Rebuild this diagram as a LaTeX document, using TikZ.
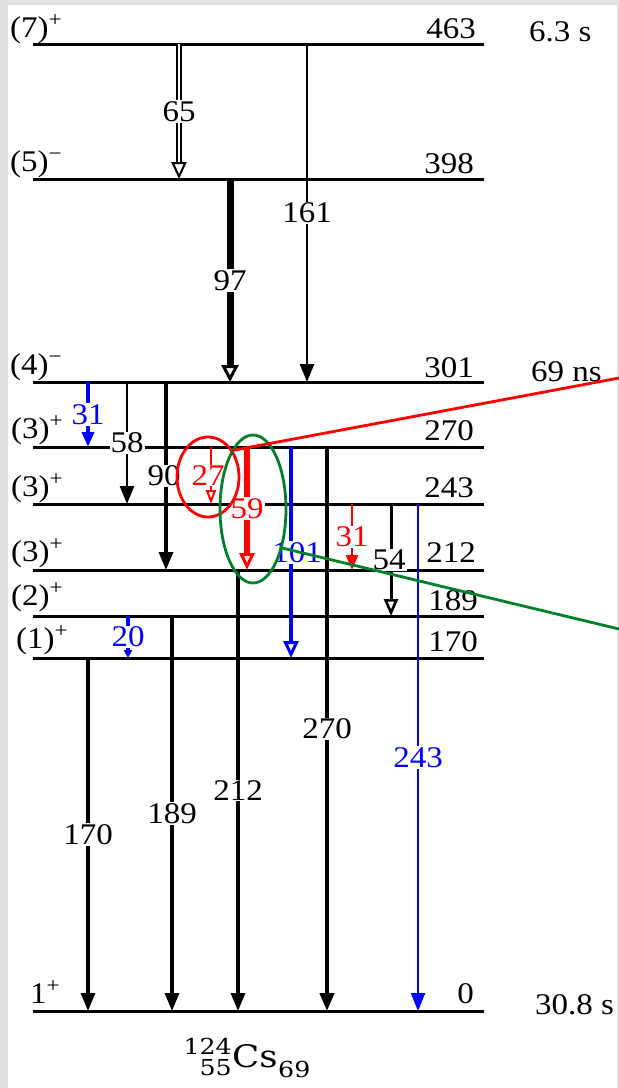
\documentclass[tikz,border=0pt]{standalone}
\usepackage{fontspec}
\setmainfont{Liberation Serif}[FakeStretch=1.1]
\newfontfamily\nucfont{DejaVu Serif}[FakeStretch=1.15]
\usetikzlibrary{arrows.meta,shapes.geometric}

\definecolor{framegrey}{RGB}{224,224,226}
\definecolor{ringgreen}{RGB}{0,128,40}

\newcommand{\lblsize}{\fontsize{30}{32}\selectfont}
\newcommand{\parity}[1]{\raisebox{11pt}{\fontsize{21}{21}\selectfont #1}}

\tikzset{
  level/.style={line width=3pt},
  gam/.style={line width=3.1pt},
  fa/.style={-{Triangle[width=14pt,length=18pt]}},
  oa/.style={-{Triangle[open,width=15pt,length=17pt,line width=3pt]}},
  sa/.style={-{Triangle[width=12pt,length=15pt]}},
  glab/.style={fill=white, inner sep=1pt, font=\lblsize},
  spin/.style={anchor=base west, inner sep=0pt, font=\lblsize},
  en/.style={anchor=base east, inner sep=0pt, font=\lblsize},
  life/.style={anchor=base west, inner sep=0pt, font=\lblsize},
  ring/.style={ellipse, draw, line width=2.8pt, inner sep=0pt},
  nuc/.style={inner sep=0pt, font=\nucfont\fontsize{31}{32}\selectfont},
  nucs/.style={inner sep=0pt, font=\nucfont\fontsize{22}{22}\selectfont}
}

\begin{document}
\begin{tikzpicture}[x=1pt,y=-1pt]
\useasboundingbox (0,0) rectangle (619,1088);
\fill[framegrey] (0,0) rectangle (619,1088);
\fill[white] (8,5) rectangle (617,1088);

% levels
\foreach \e/\y in {463/44,398/179,301/382,270/447,243/504,212/570,189/616,170/658,0/1011}{
  \coordinate (L\e) at (33,\y);
  \draw[level] (L\e) -- ++(451,0);
}

% columns of the transitions
\foreach \n/\x in {c65/179,c161/307,c97/230,c31b/88,c58/127,c90/166,c27/211,c59/247,c101/291,
                   c270/327,c31r/352,c54/391,c243/418,c20/128,c212/238,c189/172,c170/88}{
  \coordinate (\n) at (\x,0);
}

% spins
\node[spin] (s463) at (10,37) {(7)\parity{+}};
\node[spin] (s398) at (10,171) {(5)\parity{−}};
\node[spin] (s301) at (10,374) {(4)\parity{−}};
\node[spin] (s270) at (11,438) {(3)\parity{+}};
\node[spin] (s243) at (11,496) {(3)\parity{+}};
\node[spin] (s212) at (11,561) {(3)\parity{+}};
\node[spin] (s189) at (11,605) {(2)\parity{+}};
\node[spin] (s170) at (16,648) {(1)\parity{+}};
\node[spin] (s0) at (30,1003) {1\parity{+}};

% energies
\node[en] (e463) at (476,38) {463};
\node[en] (e398) at (474,173) {398};
\node[en] (e301) at (474,377) {301};
\node[en] (e270) at (474,440) {270};
\node[en] (e243) at (474,497) {243};
\node[en] (e212) at (476,562) {212};
\node[en] (e189) at (478,610) {189};
\node[en] (e170) at (478,651) {170};
\node[en] (e0) at (474,1003) {0};

% half-lives
\node[life] (t463) at (529,41) {6.3 s};
\node[life] (t301) at (531,381) {69 ns};
\node[life] (t0) at (535,1014) {30.8 s};

% transitions
\draw[line width=1.8pt, double, double distance=2.6pt, -{Triangle[open,width=15pt,length=17pt,line width=2pt]}]
  (c65 |- L463) -- (c65 |- L398) node[glab, midway] (g65) {65};
\draw[gam, line width=2.5pt, fa] (c161 |- L463) -- (c161 |- L301) node[glab, midway] (g161) {161};
\draw[gam, line width=7pt, -{Triangle[open,width=17pt,length=17pt,line width=3pt]}]
  (c97 |- L398) -- (c97 |- L301) node[glab, midway] (g97) {97};
\draw[gam, blue, line width=3.4pt, sa] (c31b |- L301) -- (c31b |- L270) node[glab, midway] (g31b) {31};
\draw[gam, line width=2.5pt, fa] (c58 |- L301) -- (c58 |- L243) node[glab, midway] (g58) {58};
\draw[gam, line width=3.2pt, fa] (c90 |- L301) -- (c90 |- L212) node[glab, midway, xshift=-2pt] (g90) {90};
\draw[gam, red, line width=2.6pt, -{Triangle[open,width=10pt,length=14pt,line width=2pt]}]
  (c27 |- L270) -- (c27 |- L243) node[glab, midway, xshift=-3pt] (g27) {27};
\draw[gam, red, line width=6pt, oa] (c59 |- L270) -- (c59 |- L212) node[glab, midway] (g59) {59};
\draw[gam, blue, line width=4.5pt, oa] (c101 |- L270) -- (c101 |- L170) node[glab, midway, xshift=6pt] (g101) {101};
\draw[gam, line width=4.2pt, fa] (c270 |- L270) -- (c270 |- L0) node[glab, midway] (g270) {270};
\draw[gam, red, line width=2.8pt, sa] (c31r |- L243) -- (c31r |- L212) node[glab, midway] (g31r) {31};
\draw[gam, line width=3pt, -{Triangle[open,width=14pt,length=17pt,line width=2.6pt]}]
  (c54 |- L243) -- (c54 |- L189) node[glab, midway, xshift=-2pt] (g54) {54};
\draw[gam, blue, line width=2.3pt, fa] (c243 |- L243) -- (c243 |- L0) node[glab, midway] (g243) {243};
\draw[gam, blue, line width=3.2pt, -{Triangle[width=8pt,length=8pt]}] (c20 |- L189) -- (c20 |- L170) node[glab, midway] (g20) {20};
\draw[gam, fa] (c212 |- L212) -- (c212 |- L0) node[glab, midway] (g212) {212};
\draw[gam, fa] (c189 |- L189) -- (c189 |- L0) node[glab, midway] (g189) {189};
\draw[gam, fa] (c170 |- L170) -- (c170 |- L0) node[glab, midway] (g170) {170};

% nuclide
\node[nuc, anchor=base west] (cs) at (232,1067) {Cs};
\node[nucs, anchor=base east] (mass) at ([yshift=13pt]cs.base west) {124};
\node[nucs, anchor=base east] (prot) at ([yshift=-8pt]cs.base west) {55};
\node[nucs, anchor=base west] (neut) at ([yshift=-10pt]cs.base east) {69};

% rings
\node[ring, draw=red, minimum width=62pt, minimum height=80pt] (r27) at (208,477) {};
\node[ring, draw=ringgreen, minimum width=66pt, minimum height=148pt] (r59) at (253,509) {};
\coordinate (redend) at (619,378);
\coordinate (greenend) at (619,629);
\draw[red, line width=2.8pt] (r27.47) -- (redend);
\draw[ringgreen, line width=2.8pt] (r59.-53) -- (greenend);
\end{tikzpicture}
\end{document}
